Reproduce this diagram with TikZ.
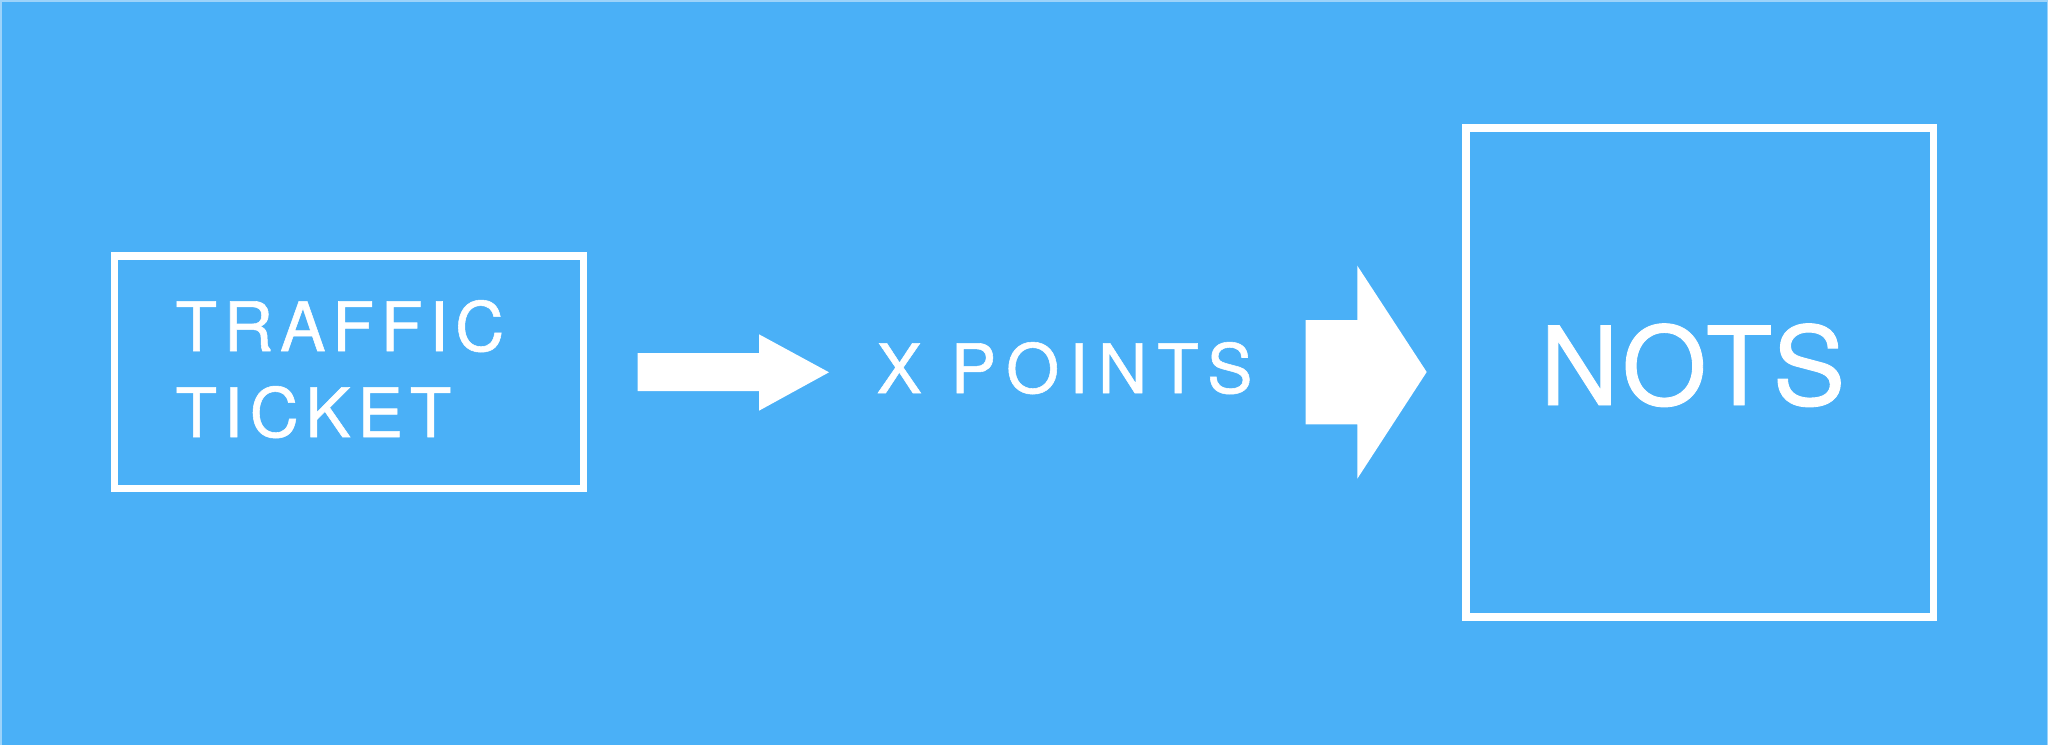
\documentclass[tikz,border=0pt]{standalone}
\usepackage{fontspec}
\setmainfont{TeX Gyre Heros}
\newfontfamily\spacedfont[LetterSpace=10, FakeBold=0.8]{TeX Gyre Heros}
\newfontfamily\widefont[LetterSpace=14.5, FakeBold=0.8]{TeX Gyre Heros}
\newfontfamily\slightfont[LetterSpace=3, FakeBold=0.8]{TeX Gyre Heros}
\definecolor{bg}{HTML}{4AB0F7}
\definecolor{edgeblue}{HTML}{9CD3FA}
\tikzset{
  framebox/.style={draw=white, line width=7.5pt, inner sep=0pt, outer sep=0pt},
  smalltext/.style={text=white, inner sep=0pt, outer sep=0pt, font=\spacedfont\fontsize{68.2pt}{86pt}\selectfont},
  widetext/.style={text=white, inner sep=0pt, outer sep=0pt, font=\widefont\fontsize{68.2pt}{86pt}\selectfont},
  bigtext/.style={text=white, inner sep=0pt, outer sep=0pt, font=\slightfont\fontsize{109pt}{120pt}\selectfont},
  bigarrow/.style={fill=white, draw=none}
}
\begin{document}
\begin{tikzpicture}[x=1pt,y=-1pt]
\useasboundingbox (0,0) rectangle (2048,745);
\fill[bg] (0,0) rectangle (2048,745);
\draw[edgeblue, line width=1.5pt] (0.75,745) -- (0.75,0.75) -- (2047.25,0.75) -- (2047.25,745);

% boxes
\node[framebox, minimum width=469pt, minimum height=232.5pt] (ticket) at (349,372.25) {};
\node[framebox, minimum width=467.3pt, minimum height=489pt] (nots) at (1699.65,372.5) {};

% texts
\node[smalltext, anchor=base west] (traffic) at (175.5,351) {TRAFFIC};
\node[smalltext, anchor=base west] (ticketlabel) at (175.5,437) {TICKET};
\node[widetext, anchor=base west] (points) at (876.5,393) {X POINTS};
\node[bigtext, anchor=base west] (notslabel) at (1540,405) {NOTS};

% arrows
\coordinate (a1s) at (637.5,372.3);
\coordinate (a1t) at (829,372.3);
\fill[bigarrow] (a1s) ++(0,-19.3) -- (759,353) -- (759,334.3) -- (a1t) -- (759,410.7) -- (759,391) -- (637.5,391) -- cycle;

\coordinate (a2s) at (1305.7,372);
\coordinate (a2t) at (1426.7,372);
\fill[bigarrow] (a2s) ++(0,-52) -- (1357.3,320) -- (1357.3,265.7) -- (a2t) -- (1357.3,478.7) -- (1357.3,424.3) -- (1305.7,424.3) -- cycle;
\end{tikzpicture}
\end{document}
